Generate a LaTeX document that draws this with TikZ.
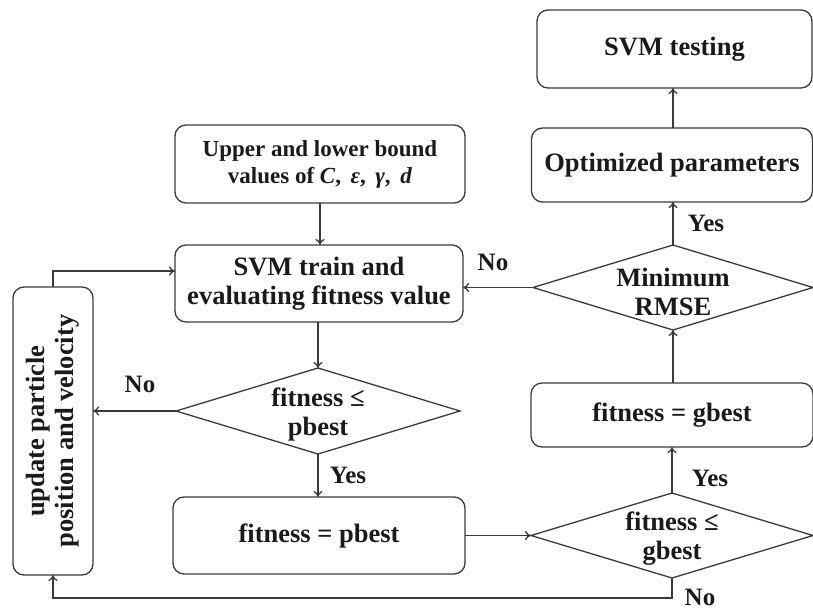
\documentclass[tikz,border=0pt]{standalone}
\usepackage{fontspec}
\setmainfont{Liberation Serif}
\usetikzlibrary{arrows.meta,shapes.geometric}

\definecolor{ink}{HTML}{1A1A1A}
\definecolor{edge}{HTML}{3A3A3A}

\tikzset{
  base/.style={draw=edge, line width=1.3pt, text=ink, inner sep=0pt, outer sep=0pt,
    align=center, font=\fontsize{26.5}{28.5}\selectfont\bfseries},
  procbox/.style={base, rounded corners=11pt},
  decision/.style={base, diamond},
  dlabel/.style={text=ink, align=center, font=\fontsize{26.5}{29}\selectfont\bfseries},
  tag/.style={text=ink, font=\fontsize{25}{26}\selectfont\bfseries, inner sep=0pt},
  flow/.style={draw=edge, line width=1.3pt, -{To[length=6pt,width=9pt]}},
}

\begin{document}
\begin{tikzpicture}[x=1pt, y=-1pt]
\useasboundingbox (0,0) rectangle (813,610);

% process boxes
\node[procbox, minimum width=275pt, minimum height=78pt] (test) at (674.5,49) {SVM testing};
\node[procbox, minimum width=281pt, minimum height=74pt] (opt) at (672,165) {Optimized parameters};
\node[procbox, minimum width=290pt, minimum height=78pt,
      font=\fontsize{23}{27}\selectfont\bfseries] (upper) at (320,164)
  {Upper and lower bound\\values of \textit{C},\, \textit{ε},\, \textit{γ},\, \textit{d}};
\node[procbox, minimum width=288pt, minimum height=77pt] (train) at (319,283.5)
  {SVM train and\\evaluating fitness value};
\node[procbox, minimum width=292pt, minimum height=77pt] (pbox) at (319,535.5) {fitness = pbest};
\node[procbox, minimum width=282pt, minimum height=64pt] (gbox) at (672,415) {fitness = gbest};
\node[procbox, minimum width=80pt, minimum height=288pt] (update) at (53,431) {};
\node[dlabel, rotate=90] (updtext) at (update.center) {update particle\\position and velocity};

% decisions
\node[decision, minimum width=284pt, minimum height=86pt] (pdec) at (318,411) {};
\node[dlabel] (pdectext) at (318,414) {fitness ≤\\pbest};
\node[decision, minimum width=282pt, minimum height=85pt] (gdec) at (672,535.5) {};
\node[dlabel] (gdectext) at (672,539) {fitness ≤\\gbest};
\node[decision, minimum width=280pt, minimum height=85pt] (rdec) at (673,287.5) {};
\node[dlabel] (rdectext) at (673,292) {Minimum\\RMSE};

% loop corners
\coordinate (ltop) at (update.north |- 0,271);
\coordinate (bot1) at (gdec.south |- 0,598);
\coordinate (bot2) at (update.south |- 0,598);

% connectors
\draw[flow] (upper.south) -- (upper.south |- train.north);
\draw[flow] (train.south -| pdec.north) -- (pdec.north);
\draw[flow] (pdec.west) -- (pdec.west -| update.east);
\draw[flow] (pdec.south) -- (pdec.south |- pbox.north);
\draw[flow] (pbox.east) -- (gdec.west);
\draw[flow] (gdec.north) -- (gdec.north |- gbox.south);
\draw[flow] (gbox.north -| rdec.south) -- (rdec.south);
\draw[flow] (rdec.west) -- (rdec.west -| train.east);
\draw[flow] (rdec.north) -- (rdec.north |- opt.south);
\draw[flow] (opt.north -| rdec.north) -- (rdec.north |- test.south);
\draw[flow] (update.north) -- (ltop) -- (ltop -| train.west);
\draw[flow] (gdec.south) -- (bot1) -- (bot2) -- (update.south);

% branch tags
\node[tag] (n1) at (140,384) {No};
\node[tag] (y1) at (348,475) {Yes};
\node[tag] (n2) at (493,262) {No};
\node[tag] (y2) at (706,223) {Yes};
\node[tag] (y3) at (710,478) {Yes};
\node[tag] (n3) at (700,597) {No};
\end{tikzpicture}
\end{document}
